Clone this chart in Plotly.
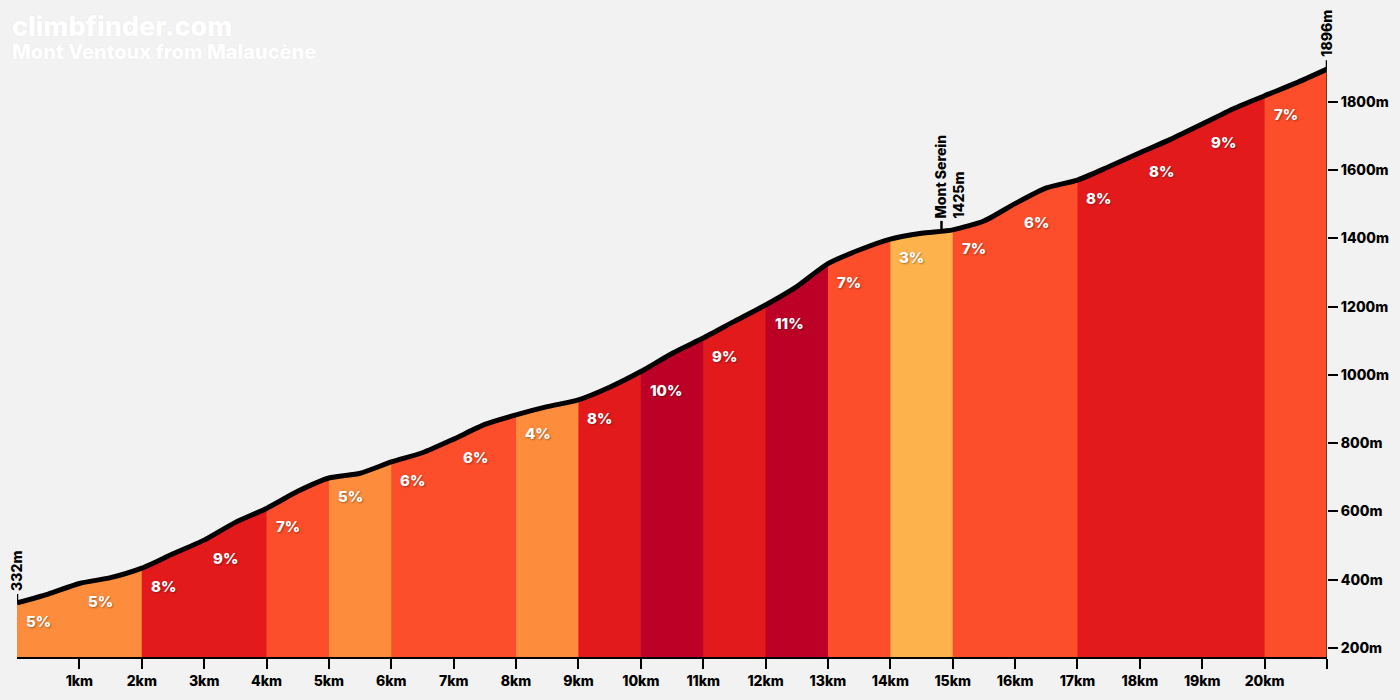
import plotly.graph_objects as go

# ---- data ----
distance_km = [0.0, 0.5, 1.0, 1.5, 2.0, 2.5, 3.0, 3.5, 4.0, 4.5, 5.0, 5.5, 6.0, 6.5, 7.0,
               7.5, 8.0, 8.5, 9.0, 9.5, 10.0, 10.5, 11.0, 11.5, 12.0, 12.5, 13.0, 13.5,
               14.0, 14.5, 15.0, 15.5, 16.0, 16.5, 17.0, 17.5, 18.0, 18.5, 19.0, 19.5,
               20.0, 20.5, 21.0]
elevation_m = [332, 358, 389, 406, 434, 476, 516, 568, 609, 659, 698, 712, 745, 772, 812,
               855, 883, 907, 927, 964, 1010, 1063, 1108, 1157, 1205, 1259, 1326, 1366,
               1398, 1415, 1425, 1451, 1502, 1548, 1571, 1610, 1651, 1691, 1735, 1780,
               1818, 1855, 1896]
segment_grades = [5, 5, 8, 9, 7, 5, 6, 6, 4, 8, 10, 9, 11, 7, 3, 7, 6, 8, 8, 9, 7]

marker_km = [0, 14.82, 21]
marker_elev = [332, 1425, 1896]
marker_text = ["332m", "Mont Serein<br>1425m", "1896m"]

x_tick_vals = list(range(1, 22))
x_tick_text = [f"{k}km" for k in range(1, 21)] + [""]
y_tick_vals = [200, 400, 600, 800, 1000, 1200, 1400, 1600, 1800]
y_tick_text = [f"{v}m" for v in y_tick_vals]

title_main = "climbfinder.com"
title_sub = "Mont Ventoux from Malaucène"

# ---- styling ----
FONT = "Inter"
W = 800
BG = "#f2f2f2"


def grade_color(g):
    if g <= 2:
        return "#FED976"
    if g <= 3:
        return "#FEB24C"
    if g <= 5:
        return "#FD8D3C"
    if g <= 7:
        return "#FC4E2A"
    if g <= 9:
        return "#E31A1C"
    return "#BD0026"


fig = go.Figure()

# coloured km segments: consecutive same-colour segments are merged; each run
# is filled from its start to the end and later runs paint over earlier ones
runs = []
for k, g in enumerate(segment_grades):
    c = grade_color(g)
    if runs and runs[-1][1] == c:
        continue
    runs.append([k, c])

for start, c in runs:
    idx = [i for i, d in enumerate(distance_km) if d >= start]
    xs = [distance_km[i] for i in idx]
    ys = [elevation_m[i] for i in idx]
    fig.add_trace(go.Scatter(
        x=xs, y=ys, mode="lines", fill="tozeroy",
        fillcolor=c, line=dict(width=0, color=c),
        hoverinfo="skip", showlegend=False,
    ))

# profile line
fig.add_trace(go.Scatter(
    x=distance_km, y=elevation_m, mode="lines",
    line=dict(color="black", width=5, shape="spline", smoothing=0.6),
    hoverinfo="skip", showlegend=False,
))

annotations = []
# grade labels
for k, g in enumerate(segment_grades):
    i = distance_km.index(float(k))
    annotations.append(dict(
        x=k, y=elevation_m[i], xref="x", yref="y",
        text=f"{g}%", showarrow=False, xanchor="left", yanchor="top",
        xshift=7, yshift=-7,
        font=dict(family=FONT, size=15, color="white", weight=W,
                  shadow="1px 1px 2px rgba(0,0,0,0.35)"),
    ))

shapes = []
# marker ticks and rotated labels
for km, el, txt in zip(marker_km, marker_elev, marker_text):
    shapes.append(dict(
        type="line", xref="x", yref="y", x0=km, x1=km,
        ysizemode="pixel", yanchor=el, y0=0, y1=9,
        line=dict(color="black", width=2.5),
    ))
    multi = "<br>" in txt
    annotations.append(dict(
        x=km, y=el, xref="x", yref="y", text=txt, showarrow=False,
        textangle=-90, xanchor="center", yanchor="bottom", yshift=10,
        xshift=8 if multi else 0, align="left",
        font=dict(family=FONT, size=14, color="black", weight=W),
    ))

# right edge line at summit
shapes.append(dict(
    type="line", xref="x", yref="y", x0=distance_km[-1], x1=distance_km[-1],
    y0=173.6, y1=elevation_m[-1], line=dict(color="#333333", width=1.5),
    layer="above",
))

plot_h = 700 - 20 - 43
# titles (paper coords relative to plot area)
annotations.append(dict(
    x=(10 - 17) / 1310, y=(657 - 27) / plot_h, xref="paper", yref="paper",
    text=title_main, showarrow=False, xanchor="left", yanchor="middle",
    font=dict(family=FONT, size=27, color="white", weight=W,
              shadow="0px 0px 2px rgba(0,0,0,0.06)"),
))
annotations.append(dict(
    x=(10 - 17) / 1310, y=(657 - 52) / plot_h, xref="paper", yref="paper",
    text=title_sub, showarrow=False, xanchor="left", yanchor="middle",
    font=dict(family=FONT, size=20, color="white", weight=W,
              shadow="0px 0px 2px rgba(0,0,0,0.06)"),
))

fig.update_layout(
    width=1400, height=700,
    margin=dict(l=17, r=73, t=20, b=43),
    paper_bgcolor=BG, plot_bgcolor=BG,
    xaxis=dict(
        range=[0, 21], showgrid=False, zeroline=False,
        showline=True, linecolor="black", linewidth=2,
        ticks="outside", ticklen=10, tickwidth=2, tickcolor="black",
        tickvals=x_tick_vals, ticktext=x_tick_text,
        tickfont=dict(family=FONT, size=14, color="black", weight=W),
    ),
    yaxis=dict(
        range=[173.6, 2040], side="right", showgrid=False, zeroline=False,
        showline=False,
        ticks="outside", ticklen=10, tickwidth=2, tickcolor="black",
        tickvals=y_tick_vals, ticktext=y_tick_text,
        tickfont=dict(family=FONT, size=14, color="black", weight=W),
    ),
    annotations=annotations,
    shapes=shapes,
)

fig.write_html("out.html")
